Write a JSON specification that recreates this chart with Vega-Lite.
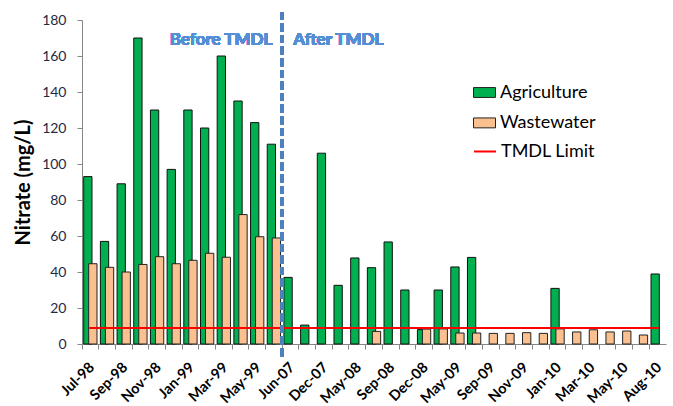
{
  "$schema": "https://vega.github.io/schema/vega-lite/v6.json",
  "width": 584,
  "height": 324,
  "autosize": "none",
  "padding": {"left": 82, "top": 20, "right": 7, "bottom": 62},
  "background": "white",
  "config": {
    "view": {"stroke": null},
    "font": "Lato",
    "axisY": {
      "grid": false,
      "labelOverlap": false,
      "labelFont": "Lato",
      "labelFontSize": 14,
      "labelColor": "#1F2A44",
      "labelPadding": 11,
      "domainColor": "#868686",
      "tickColor": "#868686",
      "tickSize": 5,
      "titleFont": "Lato",
      "titleFontSize": 20,
      "titleFontWeight": "bold",
      "titleColor": "#000000",
      "titlePadding": 8
    }
  },
  "data": {
    "values": [
      {"month": "Jul-98", "agriculture": 93, "wastewater": 44.6, "limit": 8.9},
      {"month": "Aug-98", "agriculture": 57, "wastewater": 42.6, "limit": 8.9},
      {"month": "Sep-98", "agriculture": 89, "wastewater": 40, "limit": 8.9},
      {"month": "Oct-98", "agriculture": 170, "wastewater": 44.2, "limit": 8.9},
      {"month": "Nov-98", "agriculture": 130, "wastewater": 48.5, "limit": 8.9},
      {"month": "Dec-98", "agriculture": 97, "wastewater": 44.6, "limit": 8.9},
      {"month": "Jan-99", "agriculture": 130, "wastewater": 46.5, "limit": 8.9},
      {"month": "Feb-99", "agriculture": 120, "wastewater": 50.4, "limit": 8.9},
      {"month": "Mar-99", "agriculture": 160, "wastewater": 48.2, "limit": 8.9},
      {"month": "Apr-99", "agriculture": 135, "wastewater": 71.9, "limit": 8.9},
      {"month": "May-99", "agriculture": 123, "wastewater": 59.6, "limit": 8.9},
      {"month": "Jun-99", "agriculture": 111, "wastewater": 58.9, "limit": 8.9},
      {"month": "Jun-07", "agriculture": 37, "wastewater": null, "limit": 8.9},
      {"month": "Sep-07", "agriculture": 10.5, "wastewater": null, "limit": 8.9},
      {"month": "Dec-07", "agriculture": 106, "wastewater": null, "limit": 8.9},
      {"month": "Mar-08", "agriculture": 32.6, "wastewater": null, "limit": 8.9},
      {"month": "May-08", "agriculture": 47.8, "wastewater": null, "limit": 8.9},
      {"month": "Jul-08", "agriculture": 42.4, "wastewater": 7, "limit": 8.9},
      {"month": "Sep-08", "agriculture": 56.7, "wastewater": null, "limit": 8.9},
      {"month": "Nov-08", "agriculture": 30, "wastewater": null, "limit": 8.9},
      {"month": "Dec-08", "agriculture": 8, "wastewater": 8.3, "limit": 8.9},
      {"month": "Mar-09", "agriculture": 30, "wastewater": 8.4, "limit": 8.9},
      {"month": "May-09", "agriculture": 42.8, "wastewater": 6.1, "limit": 8.9},
      {"month": "Jul-09", "agriculture": 48.1, "wastewater": 6.1, "limit": 8.9},
      {"month": "Sep-09", "agriculture": null, "wastewater": 5.9, "limit": 8.9},
      {"month": "Oct-09", "agriculture": null, "wastewater": 5.9, "limit": 8.9},
      {"month": "Nov-09", "agriculture": null, "wastewater": 6.3, "limit": 8.9},
      {"month": "Dec-09", "agriculture": null, "wastewater": 5.9, "limit": 8.9},
      {"month": "Jan-10", "agriculture": 30.9, "wastewater": 8.4, "limit": 8.9},
      {"month": "Feb-10", "agriculture": null, "wastewater": 6.7, "limit": 8.9},
      {"month": "Mar-10", "agriculture": null, "wastewater": 7.9, "limit": 8.9},
      {"month": "Apr-10", "agriculture": null, "wastewater": 6.7, "limit": 8.9},
      {"month": "May-10", "agriculture": null, "wastewater": 7.2, "limit": 8.9},
      {"month": "Jul-10", "agriculture": null, "wastewater": 5, "limit": 8.9},
      {"month": "Aug-10", "agriculture": 38.9, "wastewater": null, "limit": 8.9}
    ]
  },
  "encoding": {
    "x": {
      "field": "month",
      "type": "nominal",
      "sort": null,
      "scale": {
        "type": "band",
        "paddingInner": 0,
        "paddingOuter": 0,
        "domain": ["Jul-98","Aug-98","Sep-98","Oct-98","Nov-98","Dec-98","Jan-99","Feb-99","Mar-99","Apr-99","May-99","Jun-99","Jun-07","Sep-07","Dec-07","Mar-08","May-08","Jul-08","Sep-08","Nov-08","Dec-08","Mar-09","May-09","Jul-09","Sep-09","Oct-09","Nov-09","Dec-09","Jan-10","Feb-10","Mar-10","Apr-10","May-10","Jul-10","Aug-10"]
      },
      "axis": {
        "title": null,
        "bandPosition": 0,
        "labelAngle": -45,
        "labelOffset": -3,
        "labelFont": "Lato",
        "labelFontSize": 14.5,
        "labelFontWeight": "bold",
        "labelColor": "#000000",
        "labelPadding": 11,
        "labelExpr": "indexof(['Jul-98','Sep-98','Nov-98','Jan-99','Mar-99','May-99','Jun-07','Dec-07','May-08','Sep-08','Dec-08','May-09','Sep-09','Nov-09','Jan-10','Mar-10','May-10','Aug-10'], datum.value) >= 0 ? datum.value : ''",
        "domainColor": "#868686",
        "tickColor": "#868686",
        "tickSize": 5,
        "labelOverlap": false,
        "labelBound": false
      }
    }
  },
  "layer": [
    {
      "mark": {"type": "bar", "width": 8.3, "xOffset": -2.5, "stroke": "#111111", "strokeWidth": 1},
      "encoding": {
        "y": {
          "field": "agriculture",
          "type": "quantitative",
          "scale": {"domain": [0, 180], "nice": false, "zero": true},
          "axis": {"title": "Nitrate (mg/L)", "values": [0, 20, 40, 60, 80, 100, 120, 140, 160, 180]}
        },
        "fill": {
          "datum": "Agriculture",
          "type": "nominal",
          "scale": {"domain": ["Agriculture", "Wastewater"], "range": ["#00B050", "#FAC090"]},
          "legend": {
            "title": null,
            "orient": "none",
            "legendX": 391,
            "legendY": 61,
            "padding": 0,
            "rowPadding": 9.4,
            "labelFont": "Lato",
            "labelFontSize": 18,
            "labelColor": "#000000",
            "labelOffset": 4,
            "symbolType": "M-1,-0.45H1V0.45H-1Z",
            "symbolSize": 484,
            "symbolStrokeColor": "#333333",
            "symbolStrokeWidth": 1,
            "symbolOpacity": 1
          }
        }
      }
    },
    {
      "mark": {"type": "bar", "width": 8.3, "xOffset": 2.5, "stroke": "#222222", "strokeWidth": 1},
      "encoding": {
        "y": {"field": "wastewater", "type": "quantitative", "axis": {"title": "Nitrate (mg/L)", "values": [0, 20, 40, 60, 80, 100, 120, 140, 160, 180]}},
        "fill": {"datum": "Wastewater", "type": "nominal"}
      }
    },
    {
      "mark": {"type": "line", "strokeWidth": 2.2, "strokeCap": "square"},
      "encoding": {
        "y": {"field": "limit", "type": "quantitative", "axis": {"title": "Nitrate (mg/L)", "values": [0, 20, 40, 60, 80, 100, 120, 140, 160, 180]}},
        "stroke": {
          "datum": "TMDL Limit",
          "type": "nominal",
          "scale": {"domain": ["TMDL Limit"], "range": ["#FF0000"]},
          "legend": {
            "title": null,
            "orient": "none",
            "legendX": 391,
            "legendY": 119.5,
            "padding": 0,
            "labelFont": "Lato",
            "labelFontSize": 18,
            "labelColor": "#000000",
            "labelOffset": 4,
            "symbolType": "stroke",
            "symbolSize": 484,
            "symbolStrokeWidth": 2
          }
        }
      }
    },
    {
      "mark": {"type": "rule", "color": "#4F81BD", "strokeWidth": 3, "strokeDash": [8, 3.6]},
      "encoding": {
        "x": {"datum": "Jun-07", "bandPosition": 0},
        "y": {"datum": 184.5, "axis": {"title": "Nitrate (mg/L)", "values": [0, 20, 40, 60, 80, 100, 120, 140, 160, 180]}},
        "y2": {"datum": -7}
      }
    },
    {
      "mark": {"type": "text", "align": "right", "baseline": "middle", "dx": -10, "font": "Lato", "fontSize": 17, "fontWeight": "bold", "color": "#558ED5"},
      "encoding": {
        "x": {"datum": "Jun-07", "bandPosition": 0},
        "y": {"datum": 169, "axis": {"title": "Nitrate (mg/L)", "values": [0, 20, 40, 60, 80, 100, 120, 140, 160, 180]}},
        "text": {"value": "Before TMDL"}
      }
    },
    {
      "mark": {"type": "text", "align": "left", "baseline": "middle", "dx": 11, "font": "Lato", "fontSize": 17, "fontWeight": "bold", "color": "#558ED5"},
      "encoding": {
        "x": {"datum": "Jun-07", "bandPosition": 0},
        "y": {"datum": 169, "axis": {"title": "Nitrate (mg/L)", "values": [0, 20, 40, 60, 80, 100, 120, 140, 160, 180]}},
        "text": {"value": "After TMDL"}
      }
    }
  ]
}
